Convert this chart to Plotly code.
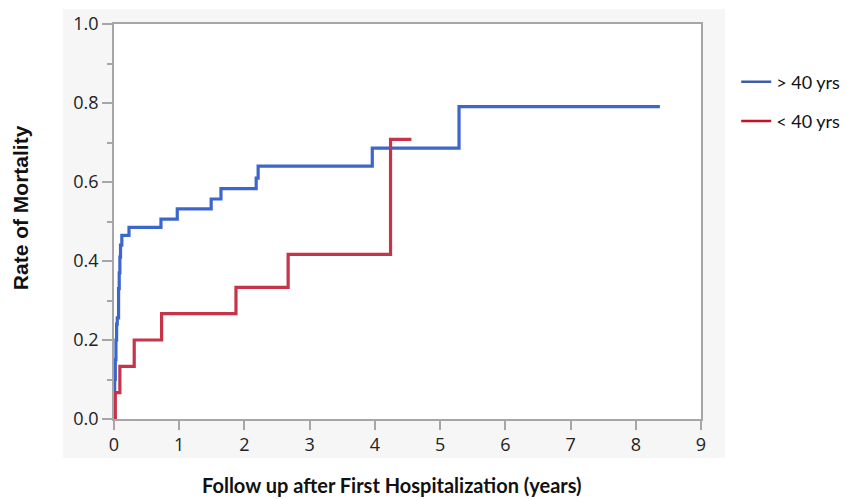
import plotly.graph_objects as go

# Kaplan-Meier style cumulative mortality
older_t = [0.00, 0.01, 0.02, 0.03, 0.04, 0.05, 0.07, 0.08, 0.09, 0.10, 0.12, 0.23,
           0.72, 0.97, 1.49, 1.64, 2.18, 2.21, 3.96, 5.29, 8.37]
older_y = [0.000, 0.100, 0.150, 0.200, 0.240, 0.256, 0.330, 0.370, 0.410, 0.440, 0.465, 0.485,
           0.506, 0.532, 0.557, 0.583, 0.610, 0.640, 0.686, 0.791, 0.791]

younger_t = [0.00, 0.02, 0.09, 0.31, 0.73, 1.87, 2.67, 4.24, 4.56]
younger_y = [0.000, 0.067, 0.133, 0.200, 0.267, 0.333, 0.417, 0.708, 0.708]

series_names = ["> 40 yrs", "< 40 yrs"]
x_ticks = [0, 1, 2, 3, 4, 5, 6, 7, 8, 9]
y_ticks = [0.0, 0.2, 0.4, 0.6, 0.8, 1.0]
y_tick_text = ["0.0", "0.2", "0.4", "0.6", "0.8", "1.0"]

BLUE = "#3D66CC"
RED = "#C73349"
LEG_BLUE = "#3A5DA8"
LEG_RED = "#C01424"

fig = go.Figure()
fig.add_trace(go.Scatter(x=older_t, y=older_y, mode="lines", line_shape="hv",
                         line=dict(color=BLUE, width=3.2), showlegend=False, name=series_names[0]))
fig.add_trace(go.Scatter(x=younger_t, y=younger_y, mode="lines", line_shape="hv",
                         line=dict(color=RED, width=3.2), showlegend=False, name=series_names[1]))
# legend entries
fig.add_trace(go.Scatter(x=[None], y=[None], mode="lines", name=series_names[0],
                         legendgroup="a", line=dict(color=LEG_BLUE, width=2.5)))
fig.add_trace(go.Scatter(x=[None], y=[None], mode="lines", name=series_names[1],
                         legendgroup="b", line=dict(color=LEG_RED, width=2.5)))

axis_col = "#A6A6A6"
tick_font = dict(family="Open Sans, Noto Sans, sans-serif", size=18, color="#222222")

fig.update_layout(
    width=850, height=499,
    margin=dict(l=106, r=157, t=16, b=88, autoexpand=False),
    paper_bgcolor="white",
    plot_bgcolor="white",
    showlegend=True,
    legend=dict(x=1.060, y=0.90, xanchor="left", yanchor="top",
                font=dict(family="Lato, Carlito, sans-serif", size=18, color="#111111"),
                tracegroupgap=13, itemwidth=30, bgcolor="rgba(0,0,0,0)",
                traceorder="grouped"),
    xaxis=dict(range=[0, 9], tickvals=x_ticks, ticks="outside", ticklen=9, tickwidth=1.5,
               tickcolor=axis_col, showline=True, linecolor=axis_col, linewidth=1.5, mirror=True,
               showgrid=False, zeroline=False, tickfont=tick_font, automargin=False),
    yaxis=dict(range=[0, 1.0], tickvals=y_ticks, ticktext=y_tick_text, ticks="outside",
               ticklen=10, tickwidth=1.5, tickcolor=axis_col,
               minor=dict(dtick=0.1, ticks="outside", ticklen=5, tickwidth=1.5, tickcolor=axis_col,
                          showgrid=False),
               showline=True, linecolor=axis_col, linewidth=1.5, mirror=True,
               showgrid=False, zeroline=False, tickfont=tick_font, automargin=False),
)

# axis titles (placed as text so they sit where the original has them)
fig.add_annotation(text="<b>Rate of Mortality</b>", textangle=-90, showarrow=False,
                   xref="paper", yref="paper", x=-0.160, y=0.534,
                   xanchor="center", yanchor="middle",
                   font=dict(family="Liberation Sans, Arial, sans-serif", size=21, color="#111111"))
fig.add_annotation(text="<b>Follow up after First Hospitalization (years)</b>", showarrow=False,
                   xref="paper", yref="paper", x=0.4736, y=-0.168,
                   xanchor="center", yanchor="middle",
                   font=dict(family="Lato, Carlito, sans-serif", size=20, color="#111111"))

# light grey frame behind the plot area, white plot panel on top of it
fig.add_shape(type="rect", xref="paper", yref="paper", x0=-0.0869, x1=1.0409, y0=-0.0987, y1=1.038,
              fillcolor="#F6F6F6", line=dict(width=0), layer="below")
fig.add_shape(type="rect", xref="paper", yref="paper", x0=0, x1=1, y0=0, y1=1,
              fillcolor="white", line=dict(width=0), layer="below")

fig.write_html("out.html")
